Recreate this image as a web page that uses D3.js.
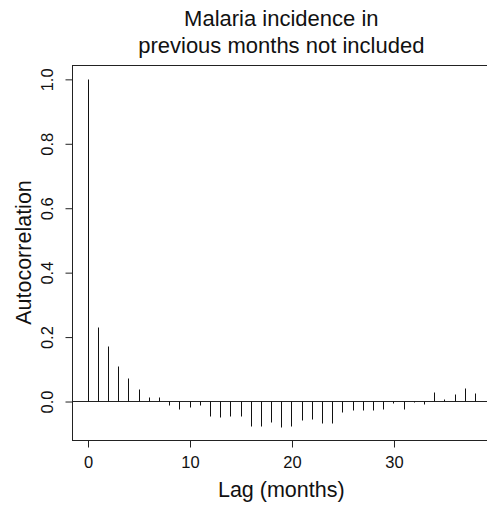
<!DOCTYPE html>
<html>
<head>
<meta charset="utf-8">
<script src="https://cdn.jsdelivr.net/npm/d3@7/dist/d3.min.js"></script>
<style>
  html, body { margin: 0; padding: 0; background: #fff; }
  svg { display: block; font-family: "Liberation Sans", Arial, Helvetica, sans-serif; }
</style>
</head>
<body>
<svg id="chart" width="487" height="505"></svg>
<script>
// ---- data ----
const titleLines = ["Malaria incidence in", "previous months not included"];
const xLabel = "Lag (months)";
const yLabel = "Autocorrelation";
const lags = [0,1,2,3,4,5,6,7,8,9,10,11,12,13,14,15,16,17,18,19,20,21,22,23,24,25,26,27,28,29,30,31,32,33,34,35,36,37,38];
const acf = [1.0, 0.23, 0.17, 0.11, 0.072, 0.036, 0.011, 0.011, -0.013, -0.026, -0.020, -0.013,
  -0.045, -0.051, -0.048, -0.045, -0.076, -0.079, -0.066, -0.082, -0.076, -0.060, -0.057,
  -0.069, -0.069, -0.035, -0.029, -0.029, -0.029, -0.026, -0.007, -0.026, -0.004, -0.010,
  0.027, 0.005, 0.021, 0.039, 0.024];
const xTicks = [0, 10, 20, 30];
const yTicks = [0.0, 0.2, 0.4, 0.6, 0.8, 1.0];

// ---- layout ----
const svg = d3.select("#chart");
const pL = 72, pT = 65, pB = 440, pR = 490.6;
const x = d3.scaleLinear().domain([-1.52, 39.52]).range([pL, pR]);
const y = d3.scaleLinear().domain([-0.121, 1.043]).range([pB, pT]);
const px = v => Math.round(v) + 0.5;

// plot box
svg.append("rect")
  .attr("x", pL + 0.5).attr("y", pT + 0.5)
  .attr("width", pR - pL).attr("height", pB - pT)
  .attr("fill", "none").attr("stroke", "#222").attr("stroke-width", 1);

// zero line
svg.append("line")
  .attr("x1", pL).attr("x2", pR)
  .attr("y1", px(y(0))).attr("y2", px(y(0)))
  .attr("stroke", "#222").attr("stroke-width", 1);

// acf bars
svg.append("g").selectAll("line")
  .data(lags.map((l, i) => ({lag: l, v: acf[i]})))
  .join("line")
  .attr("x1", d => px(x(d.lag))).attr("x2", d => px(x(d.lag)))
  .attr("y1", px(y(0))).attr("y2", d => Math.round(y(d.v)) + 0.5)
  .attr("stroke", "#111").attr("stroke-width", 1);

// x axis
const xAxis = d3.axisBottom(x).tickValues(xTicks).tickSize(7).tickSizeOuter(0).tickPadding(9)
  .tickFormat(d3.format("d"));
const gx = svg.append("g").attr("transform", `translate(0.5,${pB + 0.5})`).call(xAxis);
gx.select(".domain").remove();
gx.selectAll(".tick line").attr("stroke", "#222");
gx.selectAll(".tick text").attr("font-size", 16.5).attr("fill", "#111")
  .attr("font-family", "Liberation Sans, Arial, sans-serif");

// y axis
const yAxis = d3.axisLeft(y).tickValues(yTicks).tickSize(7).tickSizeOuter(0)
  .tickFormat(d3.format(".1f"));
const gy = svg.append("g").attr("transform", `translate(${pL + 0.5},0.5)`).call(yAxis);
gy.select(".domain").remove();
gy.selectAll(".tick line").attr("stroke", "#222");
gy.selectAll(".tick text")
  .attr("font-size", 16.5).attr("fill", "#111")
  .attr("font-family", "Liberation Sans, Arial, sans-serif")
  .attr("x", null).attr("dy", null)
  .attr("text-anchor", "middle")
  .attr("transform", "translate(-20,0) rotate(-90)");

// title
const cx = (pL + pR) / 2;
svg.append("text").attr("x", cx).attr("y", 26).attr("text-anchor", "middle")
  .attr("font-size", 22).attr("fill", "#111").text(titleLines[0]);
svg.append("text").attr("x", cx).attr("y", 53).attr("text-anchor", "middle")
  .attr("font-size", 22).attr("fill", "#111").text(titleLines[1]);

// x label
svg.append("text").attr("x", cx).attr("y", 497).attr("text-anchor", "middle")
  .attr("font-size", 21.5).attr("fill", "#111").text(xLabel);

// y label
svg.append("text")
  .attr("transform", `translate(31,${(pT + pB) / 2}) rotate(-90)`)
  .attr("text-anchor", "middle")
  .attr("font-size", 21.5).attr("fill", "#111").text(yLabel);
</script>
</body>
</html>
